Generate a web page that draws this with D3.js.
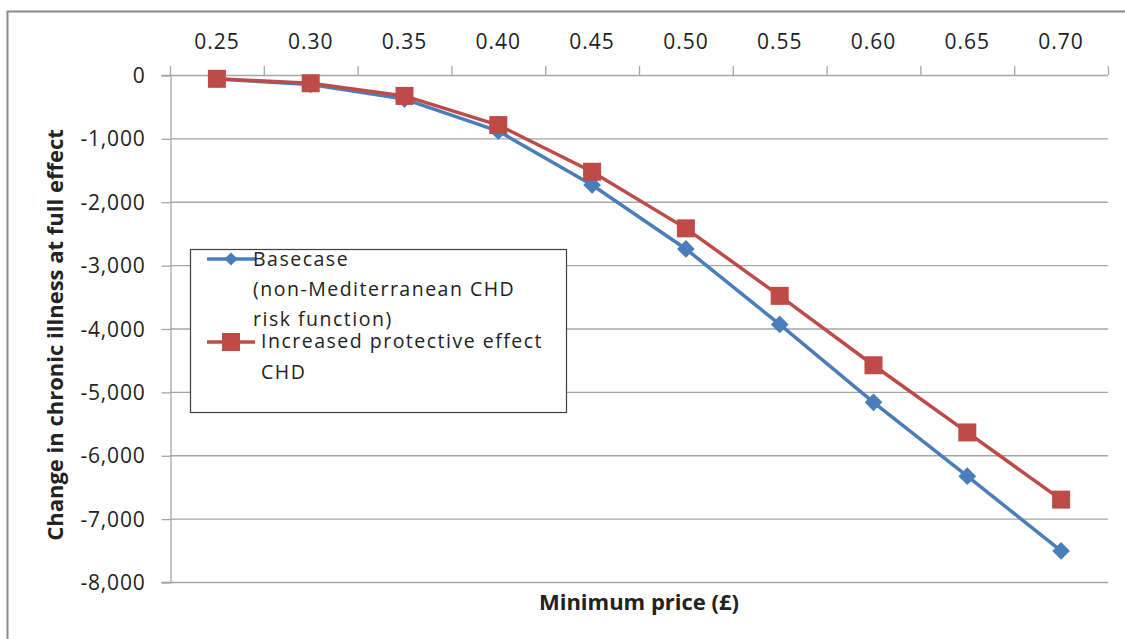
<!DOCTYPE html>
<html>
<head>
<meta charset="utf-8">
<script src="https://cdn.jsdelivr.net/npm/d3@7"></script>
<style>
  body { margin: 0; background: #fff; }
  text { font-family: "Open Sans", "Noto Sans", sans-serif; fill: #222; }
</style>
</head>
<body>
<div id="Chart"></div>
<script>
// data
var prices = ["0.25", "0.30", "0.35", "0.40", "0.45", "0.50", "0.55", "0.60", "0.65", "0.70"];
var basecase = [-65, -150, -380, -885, -1735, -2745, -3935, -5165, -6330, -7510];
var protective = [-60, -130, -330, -790, -1527, -2420, -3485, -4580, -5640, -6700];
var yTicks = [0, -1000, -2000, -3000, -4000, -5000, -6000, -7000, -8000];
var seriesNames = [["Basecase", "(non-Mediterranean CHD", "risk function)"], ["Increased protective effect", "CHD"]];

var W = 1125, H = 639;
var margin = {top: 75, right: 17, bottom: 57, left: 170},
    width = W - margin.left - margin.right,
    height = H - margin.top - margin.bottom;

var svg = d3.select("#Chart").append("svg")
    .attr("width", W)
    .attr("height", H)
    .attr("class", "chart");

// outer frame (only left + top visible)
svg.append("path")
    .attr("d", "M7.5," + H + "V11.5H" + W)
    .attr("fill", "none")
    .attr("stroke", "#898989")
    .attr("stroke-width", 2);

var g = svg.append("g").attr("transform", "translate(" + margin.left + "," + margin.top + ")");

var x = d3.scaleBand().domain(prices).range([0, width]);
var y = d3.scaleLinear().domain([0, -8000]).range([0, height]);

// gridlines
g.selectAll("line.grid")
    .data(yTicks)
    .enter().append("line")
    .attr("class", "grid")
    .attr("x1", 0).attr("x2", width)
    .attr("y1", d => y(d) + 0.5).attr("y2", d => y(d) + 0.5)
    .attr("stroke", "#a6a6a6").attr("stroke-width", 1.3);

// y axis
var fmt = d3.format(",");
var yAxis = g.append("g")
    .attr("transform", "translate(0.5,0)")
    .call(d3.axisLeft(y).tickValues(yTicks).tickSize(9).tickPadding(16)
        .tickFormat(d => fmt(d).replace("\u2212", "-")));
yAxis.select(".domain").attr("stroke", "#a6a6a6").attr("stroke-width", 1.3);
yAxis.selectAll(".tick line").attr("stroke", "#a6a6a6").attr("stroke-width", 1.3)
    .attr("transform", "translate(0,0.5)");
yAxis.selectAll("text").style("font-size", "21px").style("letter-spacing", "0.8px")
    .attr("fill", "#222").attr("dy", "0.36em");

// x axis on top at y = 0, ticks between categories
var bounds = prices.map(p => x(p)).concat([width]);
g.selectAll("line.xtick")
    .data(bounds)
    .enter().append("line")
    .attr("class", "xtick")
    .attr("x1", d => d + 0.5).attr("x2", d => d + 0.5)
    .attr("y1", -9).attr("y2", 0)
    .attr("stroke", "#a6a6a6").attr("stroke-width", 1.3);
g.selectAll("text.xlab")
    .data(prices)
    .enter().append("text")
    .attr("class", "xlab")
    .attr("x", d => x(d) + x.bandwidth() / 2)
    .attr("y", -26)
    .attr("text-anchor", "middle")
    .style("font-size", "21px").style("letter-spacing", "1px")
    .text(d => d);

// lines
var line = d3.line()
    .x((d, i) => x(prices[i]) + x.bandwidth() / 2)
    .y(d => y(d));

g.append("path").datum(basecase)
    .attr("d", line).attr("fill", "none")
    .attr("stroke", "#4a7ebb").attr("stroke-width", 3.5);
g.append("path").datum(protective)
    .attr("d", line).attr("fill", "none")
    .attr("stroke", "#be4b48").attr("stroke-width", 3.5);

// markers
g.selectAll("path.diamond")
    .data(basecase)
    .enter().append("path")
    .attr("class", "diamond")
    .attr("d", d3.symbol().type(d3.symbolDiamond2).size(200))
    .attr("transform", (d, i) => "translate(" + (x(prices[i]) + x.bandwidth() / 2) + "," + y(d) + ")")
    .attr("fill", "#4a7ebb");
g.selectAll("rect.square")
    .data(protective)
    .enter().append("rect")
    .attr("class", "square")
    .attr("x", (d, i) => x(prices[i]) + x.bandwidth() / 2 - 9)
    .attr("y", d => y(d) - 9)
    .attr("width", 18).attr("height", 18)
    .attr("fill", "#be4b48");

// legend
var lg = svg.append("g").attr("transform", "translate(190,249)");
lg.append("rect")
    .attr("x", 0.5).attr("y", 0.5)
    .attr("width", 376).attr("height", 163)
    .attr("fill", "#fff").attr("stroke", "#404040").attr("stroke-width", 1.2);

lg.append("line").attr("x1", 17).attr("x2", 65).attr("y1", 10).attr("y2", 10)
    .attr("stroke", "#4a7ebb").attr("stroke-width", 3.5);
lg.append("path").attr("d", d3.symbol().type(d3.symbolDiamond2).size(110))
    .attr("transform", "translate(41,10)").attr("fill", "#4a7ebb");
lg.append("line").attr("x1", 17).attr("x2", 65).attr("y1", 93).attr("y2", 93)
    .attr("stroke", "#be4b48").attr("stroke-width", 3.5);
lg.append("rect").attr("x", 32).attr("y", 84).attr("width", 18).attr("height", 18)
    .attr("fill", "#be4b48");

var lt0 = lg.append("text").attr("x", 63).attr("y", 17)
    .style("font-size", "19.5px").style("letter-spacing", "1.5px");
seriesNames[0].forEach((s, i) => lt0.append("tspan").attr("x", 63).attr("dy", i ? 30 : 0).text(s));
var lt1 = lg.append("text").attr("x", 71).attr("y", 99)
    .style("font-size", "19.5px").style("letter-spacing", "1.5px");
seriesNames[1].forEach((s, i) => lt1.append("tspan").attr("x", 71).attr("dy", i ? 31 : 0).text(s));

// axis titles
svg.append("text")
    .attr("x", 639).attr("y", 610)
    .attr("text-anchor", "middle")
    .style("font-size", "22px").style("font-weight", "bold").attr("fill", "#111")
    .text("Minimum price (£)");
svg.append("text")
    .attr("transform", "translate(63,335) rotate(-90)")
    .attr("text-anchor", "middle")
    .style("font-size", "22px").style("font-weight", "bold").attr("fill", "#111")
    .text("Change in chronic illness at full effect");
</script>
</body>
</html>
